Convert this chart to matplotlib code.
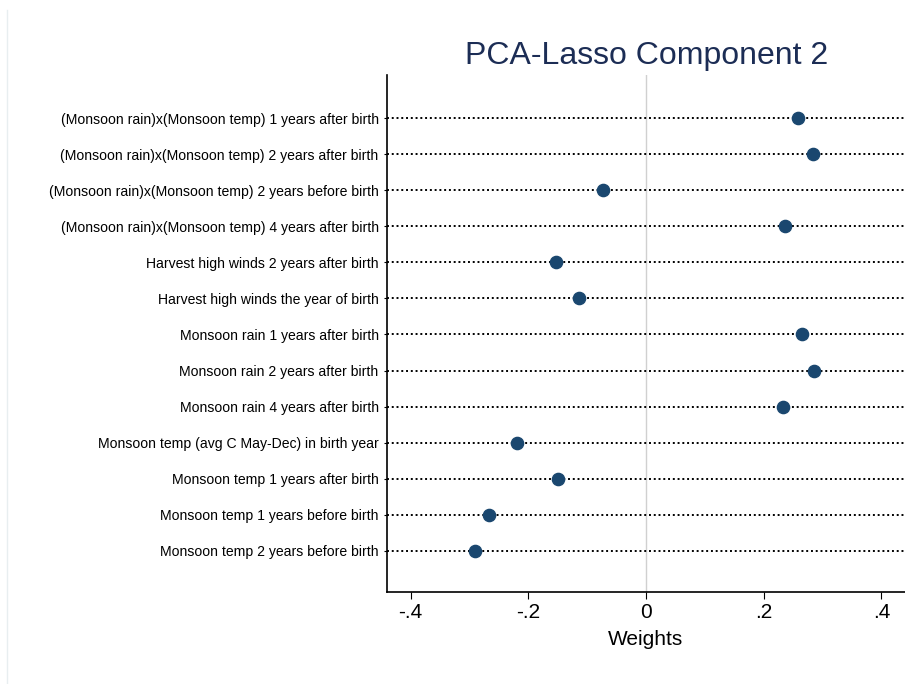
import numpy as np
import matplotlib
matplotlib.use("Agg")
import matplotlib.pyplot as plt
from matplotlib.lines import Line2D

plt.rcParams['font.family'] = ['Liberation Sans', 'DejaVu Sans']

# datos
etiquetas = [
    "(Monsoon rain)x(Monsoon temp) 1 years after birth",
    "(Monsoon rain)x(Monsoon temp) 2 years after birth",
    "(Monsoon rain)x(Monsoon temp) 2 years before birth",
    "(Monsoon rain)x(Monsoon temp) 4 years after birth",
    "Harvest high winds 2 years after birth",
    "Harvest high winds the year of birth",
    "Monsoon rain 1 years after birth",
    "Monsoon rain 2 years after birth",
    "Monsoon rain 4 years after birth",
    "Monsoon temp (avg C May-Dec) in birth year",
    "Monsoon temp 1 years after birth",
    "Monsoon temp 1 years before birth",
    "Monsoon temp 2 years before birth",
]
pesos = [0.258, 0.284, -0.073, 0.236, -0.153, -0.114, 0.265,
         0.285, 0.233, -0.219, -0.150, -0.267, -0.291]
ticks_x = [-0.4, -0.2, 0, 0.2, 0.4]
ticks_x_lab = ["-.4", "-.2", "0", ".2", ".4"]

azul = "#1a476f"

fig = plt.figure(figsize=(9.05, 6.84), dpi=100)
ax = fig.add_axes([0.4276, 0.1345, 0.5724, 0.7559])

pos = np.arange(len(etiquetas))
for p in pos:
    ax.axhline(p, color="black", linestyle=(0, (1, 1.45)), linewidth=1.4, zorder=1)
ax.axvline(0, color="#d0d0d0", linewidth=1.0, zorder=0)
ax.plot(pesos, pos, "o", color=azul, markersize=8.8, zorder=3, linestyle="none")

ax.set_ylim(12 + 41/36, -43/36)
ax.set_xlim(-0.44, 0.44)
ax.set_yticks(pos)
ax.set_yticklabels(etiquetas, fontsize=10.1)
ax.tick_params(axis="y", length=2, width=0.8, pad=4)
ax.set_xticks(ticks_x)
ax.set_xticklabels(ticks_x_lab, fontsize=15)
ax.tick_params(axis="x", length=5, width=0.8, pad=3)
ax.set_xlabel("Weights", fontsize=15, labelpad=6)

for s in ["top", "right"]:
    ax.spines[s].set_visible(False)
for s in ["left", "bottom"]:
    ax.spines[s].set_linewidth(1.2)

fig.text(0.714, 0.918, "PCA-Lasso Component 2", fontsize=23, color="#1c2d55",
         ha="center", va="center")

# borde claro a la izquierda
fig.add_artist(Line2D([0.0075, 0.0075], [0.0, 0.985], color="#e8eef0",
                      linewidth=1.0, transform=fig.transFigure))

fig.savefig("out.png", dpi=100)
